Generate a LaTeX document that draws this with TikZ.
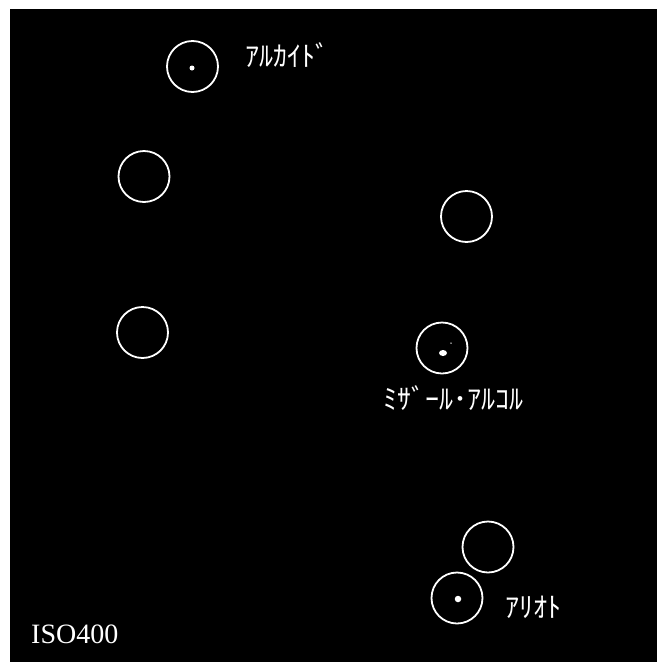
\documentclass[tikz,border=0pt]{standalone}
\usepackage{fontspec}
\setmainfont{Liberation Serif}
\newfontfamily\jpfont{Noto Sans CJK JP}
\tikzset{
  ring/.style={circle, draw=white, line width=1.8pt, minimum size=51pt, inner sep=0pt},
  starlabel/.style={text=white, font=\jpfont\fontsize{28}{28}\selectfont, inner sep=0pt, anchor=west},
  stardot/.style={ellipse, fill=white, inner sep=0pt, minimum width=#1, minimum height=#1},
}
\usetikzlibrary{shapes.geometric}
\begin{document}
\begin{tikzpicture}[x=1pt,y=-1pt]
\useasboundingbox (0,0) rectangle (659,662);
\fill[white] (0,0) rectangle (659,662);
\fill[black] (10,9) rectangle (657,662);
% circles
\node[ring] (c1) at (192.5,66.5) {};
\node[ring] (c2) at (144,176.5) {};
\node[ring] (c3) at (142.5,332.5) {};
\node[ring] (c4) at (466.5,216.5) {};
\node[ring] (c5) at (442,348) {};
\node[ring] (c6) at (488,547) {};
\node[ring] (c7) at (457,598) {};
% stars
\node[stardot=5pt] (s1) at (192,68) {};
\node[stardot=6pt, minimum width=8pt] (s2) at (443,353) {};
\node[stardot=1.5pt] (s2b) at (451,343) {};
\node[stardot=6.5pt] (s3) at (458,599) {};
% labels
\node[starlabel] (l1) at (245,55) {ｱﾙｶｲﾄﾞ};
\node[starlabel] (l2) at (383,398) {ﾐｻﾞｰﾙ･ｱﾙｺﾙ};
\node[starlabel] (l3) at (505,607) {ｱﾘｵﾄ};
\node[text=white, font=\fontsize{28}{28}\selectfont, inner sep=0pt, anchor=base west] (iso) at (31,643) {ISO400};
\end{tikzpicture}
\end{document}
